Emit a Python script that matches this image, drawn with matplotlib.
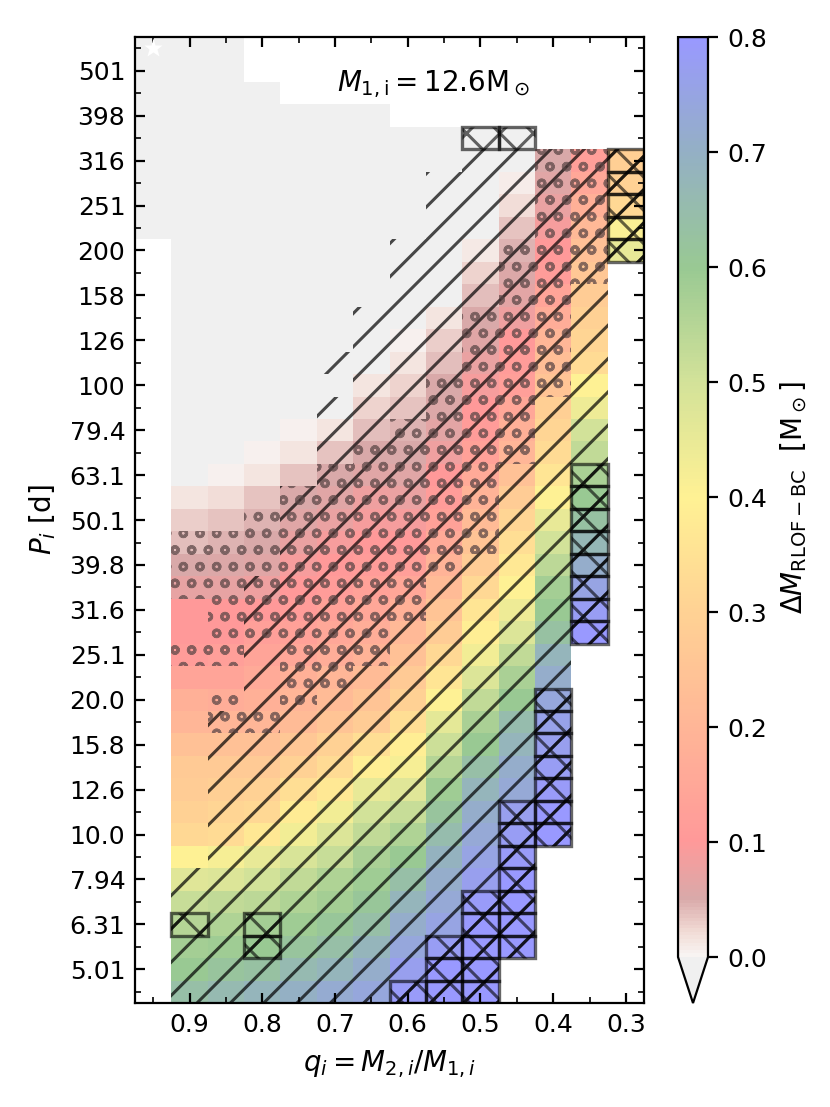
import numpy as np
import matplotlib.pyplot as plt
from matplotlib.colors import LinearSegmentedColormap, Normalize
from matplotlib.patches import Rectangle

plt.rcParams['font.size'] = 9
plt.rcParams['mathtext.fontset'] = 'dejavusans'
plt.rcParams['hatch.linewidth'] = 1.1

G = -0.05  # cells below the colour scale (drawn light grey)

# grid of initial mass ratios and log10 periods (cell centres)
q_grid = np.array([0.95, 0.90, 0.85, 0.80, 0.75, 0.70, 0.65, 0.60, 0.55, 0.50, 0.45, 0.40, 0.35, 0.30])
logp_rows = np.round(np.arange(2.75, 0.649, -0.05), 2)
dq, dlogp = 0.05, 0.05

# (q, highest log P of the column, Delta M values going down in P)
columns = [
    (0.95, 2.75, [G] * 9),
    (0.90, 2.75, [G] * 20 + [0.015, 0.03, 0.04, 0.05, 0.07, 0.1, 0.1, 0.11, 0.14, 0.18, 0.2, 0.24,
                             0.27, 0.28, 0.3, 0.32, 0.4, 0.47, 0.52, 0.55, 0.58, 0.6, 0.64]),
    (0.85, 2.75, [G] * 19 + [0.005, 0.02, 0.035, 0.045, 0.055, 0.07, 0.1, 0.1, 0.12, 0.14, 0.17, 0.2,
                             0.24, 0.27, 0.29, 0.31, 0.33, 0.42, 0.48, 0.53, 0.56, 0.59, 0.62, 0.66]),
    (0.80, 2.65, [G] * 16 + [0.005, 0.015, 0.035, 0.045, 0.05, 0.06, 0.08, 0.1, 0.12, 0.14, 0.16, 0.18,
                             0.2, 0.24, 0.27, 0.3, 0.32, 0.37, 0.45, 0.5, 0.54, 0.58, 0.6, 0.63, 0.68]),
    (0.75, 2.60, [G] * 14 + [0.005, 0.015, 0.035, 0.05, 0.06, 0.075, 0.09, 0.1, 0.11, 0.13, 0.15, 0.18,
                             0.2, 0.22, 0.26, 0.3, 0.34, 0.38, 0.43, 0.49, 0.53, 0.56, 0.59, 0.62,
                             0.66, 0.7]),
    (0.70, 2.60, [G] * 14 + [0.015, 0.035, 0.05, 0.06, 0.075, 0.09, 0.1, 0.11, 0.13, 0.15, 0.17, 0.2,
                             0.22, 0.25, 0.3, 0.33, 0.37, 0.43, 0.48, 0.52, 0.56, 0.58, 0.61, 0.64,
                             0.68, 0.72]),
    (0.65, 2.60, [G] * 12 + [0.015, 0.025, 0.04, 0.05, 0.06, 0.08, 0.09, 0.1, 0.11, 0.13, 0.15, 0.17,
                             0.19, 0.22, 0.25, 0.28, 0.34, 0.39, 0.45, 0.5, 0.53, 0.57, 0.59, 0.61,
                             0.64, 0.68, 0.71, 0.74]),
    (0.60, 2.55, [G] * 9 + [0.005, 0.015, 0.025, 0.035, 0.045, 0.05, 0.06, 0.075, 0.09, 0.1, 0.12, 0.15,
                            0.18, 0.21, 0.24, 0.27, 0.3, 0.34, 0.39, 0.42, 0.47, 0.52, 0.56, 0.6,
                            0.64, 0.68, 0.71, 0.74, 0.77, 0.79]),
    (0.55, 2.55, [G] * 8 + [0.015, 0.03, 0.04, 0.05, 0.055, 0.065, 0.08, 0.1, 0.11, 0.13, 0.16, 0.19,
                            0.22, 0.25, 0.28, 0.32, 0.36, 0.4, 0.46, 0.51, 0.55, 0.59, 0.62, 0.65,
                            0.69, 0.71, 0.73, 0.75, 0.78, 0.8, 0.8]),
    (0.50, 2.55, [G] * 5 + [0.01, 0.025, 0.04, 0.05, 0.06, 0.075, 0.09, 0.1, 0.11, 0.13, 0.16, 0.19,
                            0.22, 0.25, 0.28, 0.32, 0.36, 0.39, 0.43, 0.48, 0.53, 0.57, 0.6, 0.64,
                            0.68, 0.71, 0.73, 0.75, 0.77, 0.79, 0.8, 0.8, 0.8, 0.8]),
    (0.45, 2.55, [G] * 2 + [0.008, 0.02, 0.035, 0.045, 0.055, 0.065, 0.08, 0.1, 0.11, 0.12, 0.15, 0.18,
                            0.2, 0.24, 0.28, 0.31, 0.34, 0.37, 0.4, 0.44, 0.48, 0.53, 0.57, 0.6,
                            0.65, 0.68, 0.71, 0.73, 0.77, 0.78, 0.79, 0.8, 0.8, 0.8, 0.8]),
    (0.40, 2.50, [0.05, 0.06, 0.075, 0.09, 0.1, 0.11, 0.14, 0.17, 0.2, 0.23, 0.25, 0.29, 0.31, 0.33,
                  0.36, 0.4, 0.45, 0.5, 0.54, 0.58, 0.6, 0.63, 0.68, 0.71, 0.74, 0.76, 0.77, 0.78,
                  0.79, 0.8, 0.8]),
    (0.35, 2.50, [0.12, 0.15, 0.18, 0.21, 0.24, 0.26, 0.28, 0.3, 0.31, 0.33, 0.4, 0.44, 0.5, 0.53,
                  0.57, 0.6, 0.63, 0.67, 0.71, 0.75, 0.78, 0.8]),
    (0.30, 2.50, [0.29, 0.3, 0.32, 0.41, 0.45]),
]

# diagonal hatching: per column, highest hatched log P (hatched down to the lowest cell)
hatch_top = {0.90: 0.90, 0.85: 1.25, 0.80: 1.55, 0.75: 1.75, 0.70: 2.05, 0.65: 2.15, 0.60: 2.30,
             0.55: 2.45, 0.50: 2.50, 0.45: 2.50, 0.40: 2.50, 0.35: 2.50, 0.30: 2.50}
hatch_skip = [(0.70, 2.00)]

# dotted cells: (top, bottom) log P ranges per column
dot_ranges = {0.90: [(1.65, 1.55), (1.40, 1.40)], 0.85: [(1.65, 1.40), (1.30, 1.25)],
              0.80: [(1.70, 1.45), (1.25, 1.25)], 0.75: [(1.75, 1.30)], 0.70: [(1.80, 1.35)],
              0.65: [(1.85, 1.40)], 0.60: [(1.90, 1.50)], 0.55: [(2.00, 1.60)],
              0.50: [(2.15, 1.65)], 0.45: [(2.30, 1.85)], 0.40: [(2.50, 2.00)],
              0.35: [(2.50, 2.25)]}

# boxed (crossed) cells: (top, bottom) log P ranges per column
box_ranges = {0.90: [(0.80, 0.80)], 0.80: [(0.80, 0.75)], 0.60: [(0.65, 0.65)],
              0.55: [(0.75, 0.65)], 0.50: [(2.55, 2.55), (0.85, 0.65)],
              0.45: [(2.55, 2.55), (1.05, 0.75)], 0.40: [(1.30, 1.00)],
              0.35: [(1.80, 1.45)], 0.30: [(2.50, 2.30)]}

ytick_vals = np.round(np.arange(0.7, 2.71, 0.1), 2)
ytick_labels = ['5.01', '6.31', '7.94', '10.0', '12.6', '15.8', '20.0', '25.1', '31.6', '39.8', '50.1',
                '63.1', '79.4', '100', '126', '158', '200', '251', '316', '398', '501']
xtick_vals = [0.9, 0.8, 0.7, 0.6, 0.5, 0.4, 0.3]

cb_vals = [0.0, 0.02, 0.05, 0.1, 0.2, 0.3, 0.4, 0.5, 0.6, 0.7, 0.8]
cb_colors = ['#f8f4f2', '#f2dcd6', '#d9a9a9', '#ff9999', '#ffb697', '#ffd294', '#fff194',
             '#d3e299', '#99c993', '#94b0c4', '#9999ff']

# ---------------------------------------------------------------
Z = np.full((len(logp_rows), len(q_grid)), np.nan)
for j, (q, top, vals) in enumerate(columns):
    i0 = int(np.argmin(np.abs(logp_rows - top)))
    Z[i0:i0 + len(vals), j] = vals
Zm = np.ma.masked_invalid(Z)

q_edges = np.append(q_grid + dq / 2, q_grid[-1] - dq / 2)
p_edges = np.append(logp_rows + dlogp / 2, logp_rows[-1] - dlogp / 2)

cmap = LinearSegmentedColormap.from_list('dm', list(zip(np.array(cb_vals) / 0.8, cb_colors)))
cmap.set_under('#f0f0f0')
norm = Normalize(0, 0.8)

fig = plt.figure(figsize=(4.15, 5.535), dpi=200)
ax = fig.add_axes([0.1627, 0.0939, 0.6133, 0.8726])
mesh = ax.pcolormesh(q_edges, p_edges, Zm, cmap=cmap, norm=norm, shading='flat')


def has_data(q, lp):
    j = int(np.argmin(np.abs(q_grid - q)))
    i = int(np.argmin(np.abs(logp_rows - lp)))
    return not np.isnan(Z[i, j])


def cell(q, lp, **kw):
    ax.add_patch(Rectangle((q - dq / 2, lp - dlogp / 2), dq, dlogp, **kw))


for q, top in hatch_top.items():
    for lp in logp_rows:
        if lp <= top + 1e-6 and has_data(q, lp) and (q, lp) not in hatch_skip:
            cell(q, lp, facecolor='none', edgecolor='k', lw=0, hatch='//', alpha=0.7, zorder=2)

for q, ranges in dot_ranges.items():
    for hi, lo in ranges:
        for lp in logp_rows:
            if lo - 1e-6 <= lp <= hi + 1e-6:
                cell(q, lp, facecolor='none', edgecolor='#5a4646', lw=0, hatch='oo', alpha=0.7, zorder=2)

for q, ranges in box_ranges.items():
    for hi, lo in ranges:
        for lp in logp_rows:
            if lo - 1e-6 <= lp <= hi + 1e-6:
                cell(q, lp, facecolor='none', edgecolor='k', lw=1.2, hatch='xx', alpha=0.6, zorder=3)

ax.plot(0.95, 2.75, marker='*', color='white', ms=7, mec='none', zorder=4)
ax.text(0.565, 2.67, r'$M_{1,\rm i} = 12.6{\rm M}_\odot$', ha='center', va='center', fontsize=10)

ax.set_xlim(0.975, 0.275)
ax.set_ylim(0.625, 2.775)
ax.set_xticks(xtick_vals, labels=[f'{v:.1f}' for v in xtick_vals])
ax.set_xticks([0.95, 0.85, 0.75, 0.65, 0.55, 0.45, 0.35], minor=True)
ax.set_yticks(ytick_vals, labels=ytick_labels)
ax.set_yticks(np.round(ytick_vals - 0.05, 2).tolist() + [2.75], minor=True)
ax.tick_params(which='both', direction='in', top=True, right=True)
ax.tick_params(which='major', length=3.5)
ax.tick_params(which='minor', length=2)
ax.set_xlabel(r'$q_i = M_{2,i}/M_{1,i}$', fontsize=10)
ax.set_ylabel(r'$P_i$ [d]', fontsize=10)

cax = fig.add_axes([0.8169, 0.0939, 0.0361, 0.8726])
cbar = fig.colorbar(mesh, cax=cax, extend='min', ticks=[0.0, 0.1, 0.2, 0.3, 0.4, 0.5, 0.6, 0.7, 0.8])
cbar.ax.tick_params(direction='out', length=3.5)
cbar.ax.set_yticklabels([f'{v:.1f}' for v in cbar.get_ticks()])
cbar.set_label(r'$\Delta M_{\rm RLOF-BC}$  [M$_\odot$]', fontsize=10)

fig.savefig('out.png', dpi=200)
